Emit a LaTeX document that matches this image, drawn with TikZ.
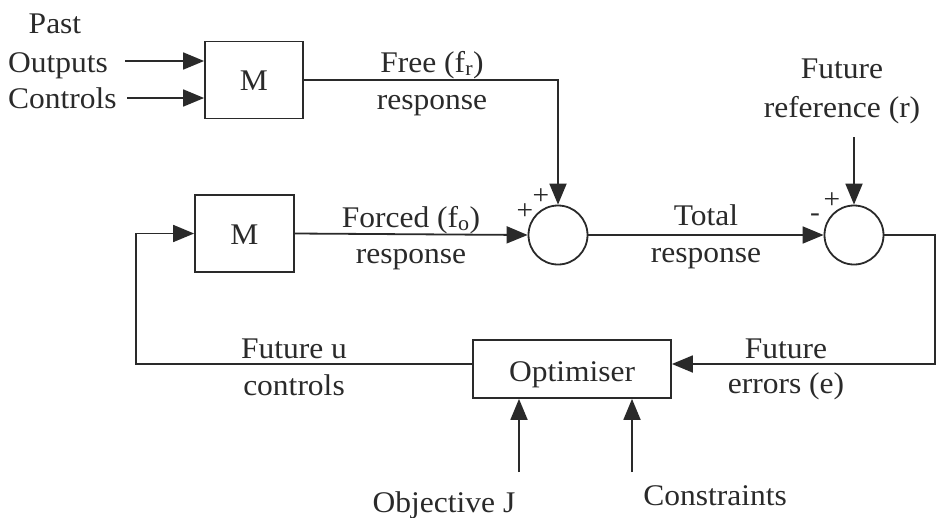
\documentclass[tikz,border=0pt]{standalone}
\usepackage{fontspec}
\setmainfont[FakeStretch=1.05]{Liberation Serif}
\usetikzlibrary{arrows.meta}
\definecolor{ink}{HTML}{2A2A2A}
\begin{document}
\begin{tikzpicture}[x=1pt,y=-1pt,
  lbl/.style={anchor=base, inner sep=0pt, font=\fontsize{30}{35}\selectfont, text=ink},
  sgn/.style={anchor=center, inner sep=0pt, font=\fontsize{28}{32}\selectfont, text=ink},
  blk/.style={draw=ink, line width=1.8pt, fill=white, inner sep=0pt},
  sumj/.style={draw=ink, circle, line width=1.8pt, minimum size=59pt, inner sep=0pt},
  wire/.style={draw=ink, line width=1.8pt},
  arr/.style={wire, -{Triangle[length=21pt,width=17pt]}},
]
\fill[white] (0,0) rectangle (937,517);
\useasboundingbox (0,0) rectangle (937,517);

% left input labels
\node[lbl] (past) at (55,33) {Past};
\node[lbl, anchor=base west] (outp) at (8,72) {Outputs};
\node[lbl, anchor=base west] (ctrl) at (8,108) {Controls};

% blocks
\node[blk, minimum width=98pt, minimum height=77pt] (m1) at (254,80) {};
\node[lbl] (m1t) at (254,90) {M};
\node[blk, minimum width=99pt, minimum height=77pt] (m2) at (244.5,233.5) {};
\node[lbl] (m2t) at (244.5,244) {M};
\node[blk, minimum width=198pt, minimum height=58pt] (opt) at (572,369) {};
\node[lbl] (optt) at (572,381) {Optimiser};

% summing junctions
\node[sumj] (s1) at (558,235) {};
\node[sumj] (s2) at (854,235) {};
\node[sgn] (p1) at (541,197) {+};
\node[sgn] (p2) at (525,212) {+};
\node[sgn] (p3) at (832,201) {+};
\node[sgn] (n3) at (815,218) {-};

% signal labels
\node[lbl] (free1) at (432,72) {Free (f\textsubscript{r})};
\node[lbl] (free2) at (432,109) {response};
\node[lbl] (forc1) at (411,227) {Forced (f\textsubscript{o})};
\node[lbl] (forc2) at (411,263) {response};
\node[lbl] (tot1) at (706,225) {Total};
\node[lbl] (tot2) at (706,262) {response};
\node[lbl] (ref1) at (842,78) {Future};
\node[lbl] (ref2) at (842,117) {reference (r)};
\node[lbl] (err1) at (786,358) {Future};
\node[lbl] (err2) at (786,393) {errors (e)};
\node[lbl] (fu1) at (294,358) {Future u};
\node[lbl] (fu2) at (294,395) {controls};
\node[lbl] (obj) at (444,512) {Objective J};
\node[lbl] (con) at (715,505) {Constraints};

% coordinates for free ends / corners
\coordinate (oa) at (125,61);
\coordinate (ca) at (127,98);
\coordinate (refin) at (854,137);
\coordinate (fbl) at (136,364);
\coordinate (fbr) at (935,364);
\coordinate (objin) at (519,472);
\coordinate (conin) at (632,472);

% connectors
\draw[arr] (oa) -- (oa -| m1.west);
\draw[arr] (ca) -- (ca -| m1.west);
\draw[arr] (m1.east) -| (s1.north);
\draw[arr] (m2.east) -- (s1.west);
\draw[arr] (s1.east) -- (s2.west);
\draw[arr] (refin) -- (s2.north);
\draw[arr] (s2.east) -| (fbr) -- (opt.east |- fbr);
\draw[arr] (opt.west |- fbl) -- (fbl) |- (m2.west);
\draw[arr] (objin) -- (objin |- opt.south);
\draw[arr] (conin) -- (conin |- opt.south);
\end{tikzpicture}
\end{document}
